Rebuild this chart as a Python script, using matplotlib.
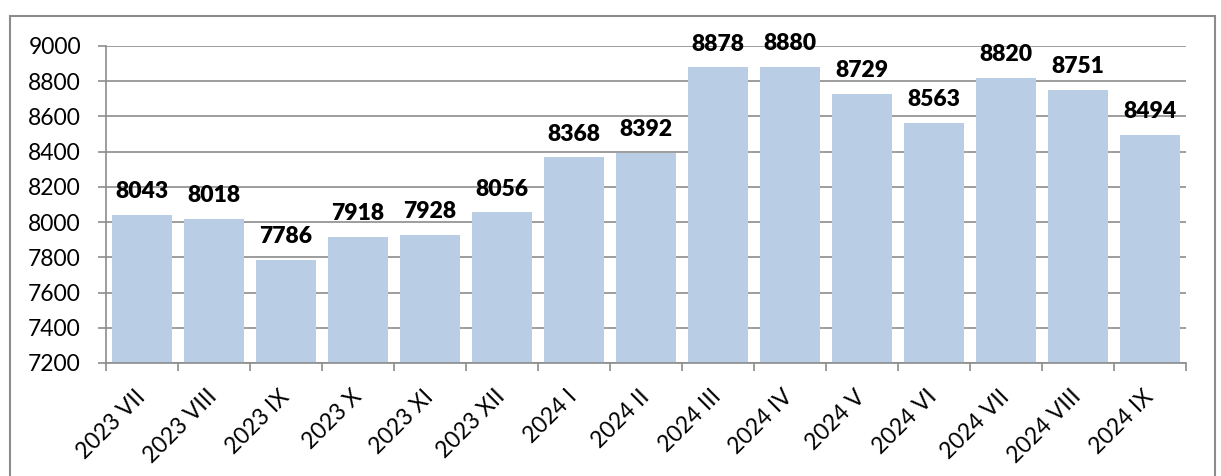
import matplotlib.pyplot as plt
from matplotlib.patches import Rectangle

months = ['2023 VII', '2023 VIII', '2023 IX', '2023 X', '2023 XI', '2023 XII',
          '2024 I', '2024 II', '2024 III', '2024 IV', '2024 V', '2024 VI',
          '2024 VII', '2024 VIII', '2024 IX']
values = [8043, 8018, 7786, 7918, 7928, 8056,
          8368, 8392, 8878, 8880, 8729, 8563,
          8820, 8751, 8494]
yticks = [7200, 7400, 7600, 7800, 8000, 8200, 8400, 8600, 8800, 9000]

plt.rcParams['font.family'] = ['Lato', 'DejaVu Sans']
grey = '#8c8c8c'

fig = plt.figure(figsize=(12.21, 4.76), dpi=100)
ax = fig.add_axes([0.0868, 0.2374, 0.8845, 0.666])

# outer chart frame
fig.patches.append(Rectangle((0.0082, -0.05), 0.9868, 1.0164, transform=fig.transFigure,
                             fill=False, edgecolor=grey, linewidth=1.5))

x = range(len(months))
ax.bar(x, values, width=0.83, color='#b9cde5', zorder=2)

for xi, v in zip(x, values):
    ax.annotate(str(v), (xi, v), xytext=(0, 12), textcoords='offset points',
                ha='center', va='baseline', fontsize=16.5, fontweight='heavy')

ax.set_xlim(-0.5, len(months) - 0.5)
ax.set_ylim(7200, 9000)
ax.set_yticks(yticks)
ax.tick_params(axis='y', labelsize=16.5, length=6, color=grey, width=1.2, pad=12)
ax.set_xticks([i - 0.5 for i in range(len(months) + 1)], minor=False)
ax.set_xticklabels([])
ax.set_xticks(list(x), minor=True)
ax.set_xticklabels(months, minor=True, rotation=45, ha='right', va='center',
                   rotation_mode='anchor', fontsize=16.5)
ax.tick_params(axis='x', which='major', length=6, color=grey, width=1.2)
ax.tick_params(axis='x', which='minor', length=0, pad=22)

ax.grid(axis='y', color=grey, linewidth=1.2, zorder=0)
ax.set_axisbelow(True)
for side in ['top', 'right']:
    ax.spines[side].set_visible(False)
for side in ['left', 'bottom']:
    ax.spines[side].set_color(grey)
    ax.spines[side].set_linewidth(1.2)

fig.savefig('out.png', dpi=100)
plt.close(fig)
